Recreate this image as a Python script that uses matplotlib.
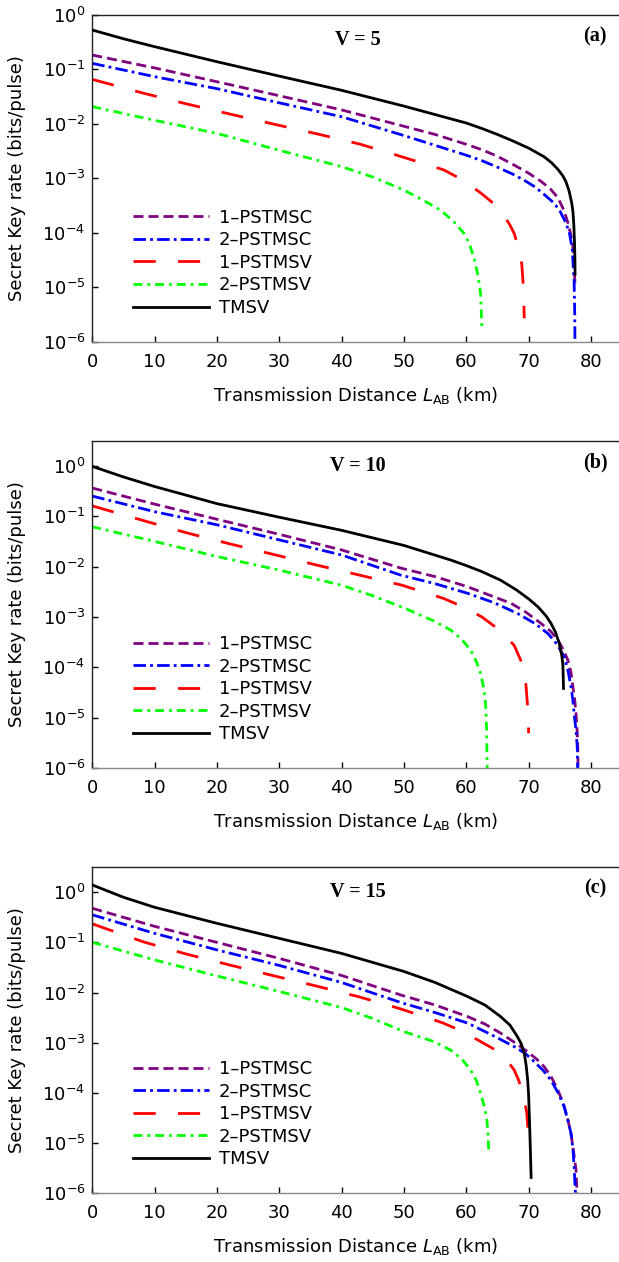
# Secret key rate vs transmission distance, three panels (V = 5, 10, 15)
import numpy as np
import matplotlib
matplotlib.use("Agg")
import matplotlib.pyplot as plt
from matplotlib.ticker import LogLocator, NullLocator

plt.rcParams['font.family'] = 'DejaVu Sans'
plt.rcParams['mathtext.fontset'] = 'dejavusans'

# data: distance (km) and log10 of key rate
# ---- panel (a), V = 5
tmsv_a_km = [0, 5, 10, 20, 30, 40, 50, 60, 62.5, 65, 67.5, 70, 72.5, 73.7, 74.7, 75.5, 76, 76.5,
             76.9, 77.1, 77.25, 77.35, 77.42, 77.45]
tmsv_a_exp = [-0.285, -0.445, -0.59, -0.866, -1.13, -1.39, -1.68, -1.99, -2.09, -2.2, -2.32, -2.45, -2.61,
              -2.72, -2.84, -2.96, -3.07, -3.24, -3.45, -3.6, -3.85, -4.15, -4.45, -4.76]
p1sc_a_km = [0, 10, 20, 30, 40, 50, 55, 60, 62.5, 65, 67.5, 70, 72, 73.5, 74.7, 75.7, 76.3, 76.8,
             77.1, 77.3, 77.45]
p1sc_a_exp = [-0.743, -0.98, -1.233, -1.49, -1.75, -2.05, -2.2, -2.38, -2.48, -2.6, -2.75, -2.91, -3.06,
              -3.2, -3.36, -3.6, -3.82, -4.05, -4.25, -4.55, -5.0]
p2sc_a_km = [0, 10, 20, 30, 40, 50, 55, 60, 62.5, 65, 67.5, 69.3, 71, 72.5, 74.1, 75, 75.8, 76.5,
             77, 77.3, 77.4, 77.45]
p2sc_a_exp = [-0.896, -1.14, -1.36, -1.62, -1.875, -2.22, -2.4, -2.58, -2.68, -2.8, -2.93, -3.04, -3.16,
              -3.3, -3.46, -3.6, -3.78, -3.98, -4.3, -4.9, -5.5, -6.3]
p1sv_a_km = [0, 8.3, 15.15, 22.1, 29.1, 36.1, 42.9, 49.7, 56.4, 59.5, 62.4, 64, 65, 66, 67, 67.7,
             68.3, 68.9, 69.1, 69.26, 69.3]
p1sv_a_exp = [-1.19, -1.446, -1.64, -1.826, -2.01, -2.19, -2.376, -2.61, -2.85, -3.04, -3.28, -3.43,
              -3.53, -3.68, -3.86, -4.02, -4.25, -4.57, -4.9, -5.4, -5.57]
p2sv_a_km = [0, 10, 20, 30, 40, 45, 50, 53, 55.9, 58, 59.6, 60.5, 61.3, 61.9, 62.3, 62.5]
p2sv_a_exp = [-1.69, -1.94, -2.18, -2.49, -2.79, -2.98, -3.22, -3.4, -3.59, -3.8, -4.01, -4.2, -4.5,
              -4.8, -5.12, -5.76]

# ---- panel (b), V = 10
tmsv_b_km = [0, 5, 10, 20, 30, 40, 50, 57.5, 60, 62.5, 65.5, 68, 70, 71.5, 72.8, 73.6, 74.3, 74.9,
             75.3, 75.5, 75.6]
tmsv_b_exp = [-0.01, -0.22, -0.41, -0.75, -1.02, -1.28, -1.58, -1.87, -1.98, -2.1, -2.27, -2.46, -2.64,
              -2.8, -2.98, -3.13, -3.3, -3.52, -3.75, -3.95, -4.42]
p1sc_b_km = [0, 10, 20, 30, 40, 49.5, 55, 60.2, 64, 67.2, 69.5, 72, 73.5, 74.7, 75.6, 76.3, 76.8,
             77.1, 77.4, 77.6, 77.8, 77.9, 77.95]
p1sc_b_exp = [-0.44, -0.76, -1.06, -1.36, -1.67, -2.03, -2.2, -2.4, -2.58, -2.73, -2.9, -3.13, -3.28,
              -3.46, -3.66, -3.86, -4.1, -4.39, -4.65, -4.92, -5.3, -5.65, -6.2]
p2sc_b_km = [0, 10, 20, 30, 40, 49.5, 55, 60.2, 64.5, 68.2, 71, 73.1, 74.6, 75.7, 76.3, 76.8, 77.1,
             77.3, 77.6, 77.8, 77.9]
p2sc_b_exp = [-0.6, -0.91, -1.17, -1.47, -1.77, -2.17, -2.34, -2.53, -2.72, -2.93, -3.13, -3.33, -3.55,
              -3.79, -4.05, -4.39, -4.65, -4.92, -5.25, -5.58, -6.2]
p1sv_b_km = [0, 8.3, 15.15, 22.1, 29.1, 36, 42.9, 49.7, 56.3, 59.5, 62.5, 65, 66.5, 67.7, 68.7,
             69.3, 69.6, 69.85, 69.98, 70.0]
p1sv_b_exp = [-0.795, -1.09, -1.33, -1.55, -1.76, -1.97, -2.17, -2.37, -2.63, -2.8, -3.0, -3.23, -3.4,
              -3.57, -3.85, -4.1, -4.39, -4.8, -5.18, -5.31]
p2sv_b_km = [0, 10, 20, 30, 40, 45, 50, 54.8, 57.5, 59.3, 60.7, 61.6, 62.3, 62.8, 63.1, 63.25, 63.35]
p2sv_b_exp = [-1.21, -1.5, -1.8, -2.07, -2.37, -2.58, -2.82, -3.08, -3.26, -3.45, -3.66, -3.88, -4.12,
              -4.42, -4.72, -5.2, -6.0]

# ---- panel (c), V = 15
tmsv_c_km = [0, 5, 10, 20, 30, 40, 50, 55, 60.2, 63, 65.5, 67, 68.2, 68.8, 69.3, 69.6, 69.85, 70.0,
             70.1, 70.25, 70.4]
tmsv_c_exp = [0.146, -0.1, -0.3, -0.62, -0.92, -1.22, -1.58, -1.8, -2.08, -2.25, -2.48, -2.65, -2.88,
              -3.02, -3.21, -3.45, -3.75, -4.05, -4.41, -5.0, -5.69]
p1sc_c_km = [0, 10, 20, 30, 40, 49.5, 55, 60.2, 63, 65.5, 67.8, 69.8, 71.3, 72.5, 73.7, 74.7, 75.6,
             76.3, 76.8, 77.1, 77.4, 77.6, 77.8]
p1sc_c_exp = [-0.32, -0.68, -1.0, -1.32, -1.66, -2.05, -2.25, -2.48, -2.63, -2.81, -3.0, -3.18, -3.33,
              -3.48, -3.7, -3.95, -4.22, -4.54, -4.82, -5.08, -5.35, -5.54, -6.1]
p2sc_c_km = [0, 10, 20, 30, 40, 49.5, 55, 60.2, 64, 67.7, 69.5, 70.9, 72.3, 73.6, 74.8, 75.7, 76.3,
             76.8, 77.1, 77.3, 77.55]
p2sc_c_exp = [-0.45, -0.82, -1.15, -1.46, -1.8, -2.2, -2.4, -2.61, -2.84, -3.08, -3.22, -3.38, -3.55,
              -3.75, -4.02, -4.28, -4.55, -4.81, -5.1, -5.48, -6.1]
p1sv_c_km = [0, 8.2, 15, 22, 28.9, 35.6, 42.6, 49.3, 56.1, 59.5, 62.6, 64.3, 65.5, 66.7, 67.7, 68.4,
             69.0, 69.4, 69.7, 69.9, 70.0]
p1sv_c_exp = [-0.63, -0.99, -1.23, -1.45, -1.66, -1.86, -2.08, -2.32, -2.6, -2.78, -3.0, -3.12, -3.21,
              -3.38, -3.55, -3.75, -3.98, -4.2, -4.4, -4.75, -5.1]
p2sv_c_km = [0, 10, 20, 30, 40, 45, 50, 54.8, 57.5, 59.3, 60.7, 61.6, 62.3, 62.9, 63.3, 63.5, 63.6]
p2sv_c_exp = [-1.0, -1.35, -1.67, -1.98, -2.3, -2.52, -2.78, -2.98, -3.15, -3.33, -3.55, -3.75, -4.01,
              -4.28, -4.54, -4.85, -5.18]

labels = ['1\u2013PSTMSC', '2\u2013PSTMSC', '1\u2013PSTMSV', '2\u2013PSTMSV', 'TMSV']
colors = ['#7F007F', '#0000FF', '#FF0000', '#00FF00', '#000000']
# dash patterns (in units of line width)
dashes = [(3.6, 1.8), (4.5, 1.5, 1.0, 1.5), (8.0, 8.0), (3.2, 1.8, 1.0, 1.8), None]

panels = [
    ('V = 5', '(a)', [(p1sc_a_km, p1sc_a_exp), (p2sc_a_km, p2sc_a_exp), (p1sv_a_km, p1sv_a_exp),
                      (p2sv_a_km, p2sv_a_exp), (tmsv_a_km, tmsv_a_exp)], 1.0),
    ('V = 10', '(b)', [(p1sc_b_km, p1sc_b_exp), (p2sc_b_km, p2sc_b_exp), (p1sv_b_km, p1sv_b_exp),
                       (p2sv_b_km, p2sv_b_exp), (tmsv_b_km, tmsv_b_exp)], 10 ** 0.5),
    ('V = 15', '(c)', [(p1sc_c_km, p1sc_c_exp), (p2sc_c_km, p2sc_c_exp), (p1sv_c_km, p1sv_c_exp),
                       (p2sv_c_km, p2sv_c_exp), (tmsv_c_km, tmsv_c_exp)], 10 ** 0.51),
]

W, H = 619, 1262
fig = plt.figure(figsize=(W / 100, H / 100), dpi=100)

# axes boxes in pixels (top, bottom)
boxes = [(14.5, 341.7), (440.7, 768.0), (866.7, 1193.0)]
left_px = 92.3

for (vtxt, tag, series, ytop), (top, bot) in zip(panels, boxes):
    ax = fig.add_axes([left_px / W, 1 - bot / H, 1 - left_px / W, (bot - top) / H])
    for (km, ex), lab, col, ds in zip(series, labels, colors, dashes):
        line, = ax.plot(km, 10 ** np.array(ex), color=col, lw=2.0, label=lab)
        if ds is not None:
            line.set_dashes(ds)
    # TMSV on top
    ax.lines[-1].set_zorder(3)

    ax.set_yscale('log')
    ax.set_xlim(0, 84.5)
    ax.set_ylim(1e-6, ytop)
    ax.set_xticks(np.arange(0, 81, 10))
    ax.yaxis.set_major_locator(LogLocator(base=10, numticks=10))
    ax.yaxis.set_minor_locator(NullLocator())

    ax.spines['right'].set_visible(False)
    ax.spines['top'].set_color('#222222')
    ax.spines['left'].set_color('#222222')
    ax.spines['bottom'].set_color('#888888')
    for s in ['top', 'left', 'bottom']:
        ax.spines[s].set_linewidth(1.0)

    ax.tick_params(direction='in', length=4, width=1.0, labelsize=13, colors='black')
    ax.tick_params(axis='x', pad=8)
    ax.tick_params(axis='y', pad=5)

    ax.set_xlabel(r'Transmission Distance $\mathit{L}_{\mathrm{AB}}$ (km)', fontsize=13, labelpad=10)
    ax.set_ylabel('Secret Key rate (bits/pulse)', fontsize=13, labelpad=12)

    ax.text(0.504, 0.922, vtxt, transform=ax.transAxes, ha='center', va='center',
            fontsize=14.5, fontweight='bold', family='Liberation Serif')
    ax.text(0.955, 0.934, tag, transform=ax.transAxes, ha='center', va='center',
            fontsize=14.5, fontweight='bold', family='Liberation Serif')

    ax.legend(loc='lower left', bbox_to_anchor=(0.077, 0.076), frameon=False, fontsize=13,
              handlelength=4.2, handletextpad=0.55, labelspacing=0.25,
              borderpad=0, borderaxespad=0)

fig.savefig('out.png', dpi=100)
